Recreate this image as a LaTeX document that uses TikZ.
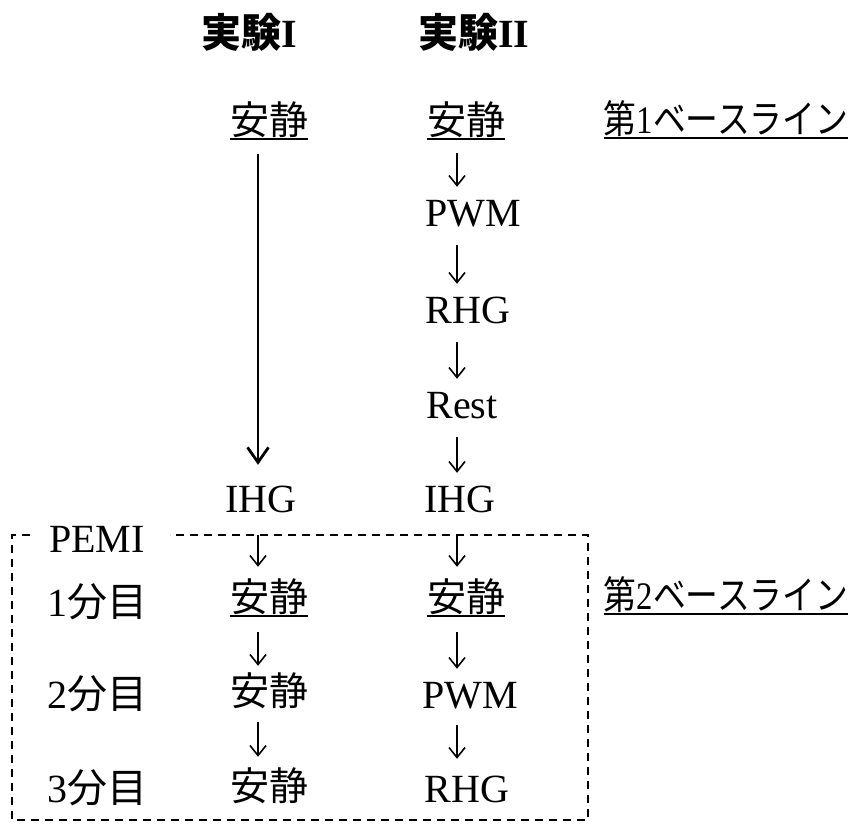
\documentclass[tikz,border=0pt]{standalone}
\usepackage{fontspec}
\setmainfont{Liberation Serif}
\newfontfamily\jp{Noto Sans CJK JP}
\usetikzlibrary{arrows.meta}
\begin{document}
\begin{tikzpicture}[x=1pt,y=-1pt,
  lat/.style={inner sep=0pt, anchor=base, font=\fontsize{40}{48}\selectfont, text height=28pt, text depth=8pt},
  jpn/.style={lat, font=\fontsize{39}{47}\selectfont\jp},
  ttl/.style={inner sep=0pt, anchor=base, font=\fontsize{40}{48}\selectfont\bfseries},
  sarr/.style={line width=1.6pt, -{Straight Barb[length=10pt,width=16pt,line width=1.6pt]}, shorten <=11pt, shorten >=11pt},
  larr/.style={line width=2.8pt, -{Straight Barb[length=15pt,width=21pt,line width=2.8pt]}, shorten <=12pt, shorten >=19pt},
  uline/.style={line width=1.8pt},
  frame/.style={line width=1.6pt, dash pattern=on 8pt off 6pt}
]
\useasboundingbox (0,0) rectangle (851,823);
\coordinate (cI) at (258,0);
\coordinate (cII) at (457,0);
% titles
\node[ttl] (t1) at (249,47) {{\jp 実験}I};
\node[ttl] (t2) at (474,47) {{\jp 実験}II};
% first rows
\node[jpn] (a0) at (269,134) {安静};
\node[jpn] (b0) at (466,134) {安静};
\node[jpn] (bl1) at (726,133) {\scalebox{0.84}[1]{第{\rmfamily 1}ベースライン}};
\node[lat] (b1) at (473,226) {PWM};
\node[lat] (b2) at (468,323) {RHG};
\node[lat] (b3) at (462,418) {Rest};
\node[lat] (b4) at (460,512) {IHG};
\node[lat] (a4) at (261,512) {IHG};
% box content
\node[lat] (pemi) at (97,552) {PEMI};
\node[lat] (m1) at (97,616) {1{\jp 分目}};
\node[lat] (m2) at (97,708) {2{\jp 分目}};
\node[lat] (m3) at (97,802) {3{\jp 分目}};
\node[jpn] (a5) at (269,611) {安静};
\node[jpn] (b5) at (466,611) {安静};
\node[jpn] (bl2) at (726,609) {\scalebox{0.84}[1]{第{\rmfamily 2}ベースライン}};
\node[jpn] (a6) at (269,705) {安静};
\node[lat] (b6) at (470,708) {PWM};
\node[jpn] (a7) at (269,800) {安静};
\node[lat] (b7) at (467,802) {RHG};
% underlines
\foreach \n in {a0,b0,bl1,a5,b5,bl2}
  \draw[uline] ([yshift=-5pt]\n.base west) -- ([yshift=-5pt]\n.base east);
% arrows
\draw[larr] (a0.south -| cI) -- (a4.north -| cI);
\draw[sarr] (b0.south -| cII) -- (b1.north -| cII);
\draw[sarr] (b1.south -| cII) -- (b2.north -| cII);
\draw[sarr] (b2.south -| cII) -- (b3.north -| cII);
\draw[sarr] (b3.south -| cII) -- (b4.north -| cII);
\draw[sarr, shorten <=15pt, shorten >=16pt] (a4.south -| cI) -- (a5.north -| cI);
\draw[sarr, shorten <=15pt, shorten >=16pt] (b4.south -| cII) -- (b5.north -| cII);
\draw[sarr, shorten <=13pt, shorten >=11pt] (a5.south -| cI) -- (a6.north -| cI);
\draw[sarr, shorten <=13pt, shorten >=11pt] (b5.south -| cII) -- (b6.north -| cII);
\draw[sarr, shorten <=9pt, shorten >=15pt] (a6.south -| cI) -- (a7.north -| cI);
\draw[sarr, shorten <=9pt, shorten >=15pt] (b6.south -| cII) -- (b7.north -| cII);
% dashed frame
\draw[frame] (30,535) -- (12,535) -- (12,820) -- (588,820) -- (588,535) -- (170,535);
\end{tikzpicture}
\end{document}
